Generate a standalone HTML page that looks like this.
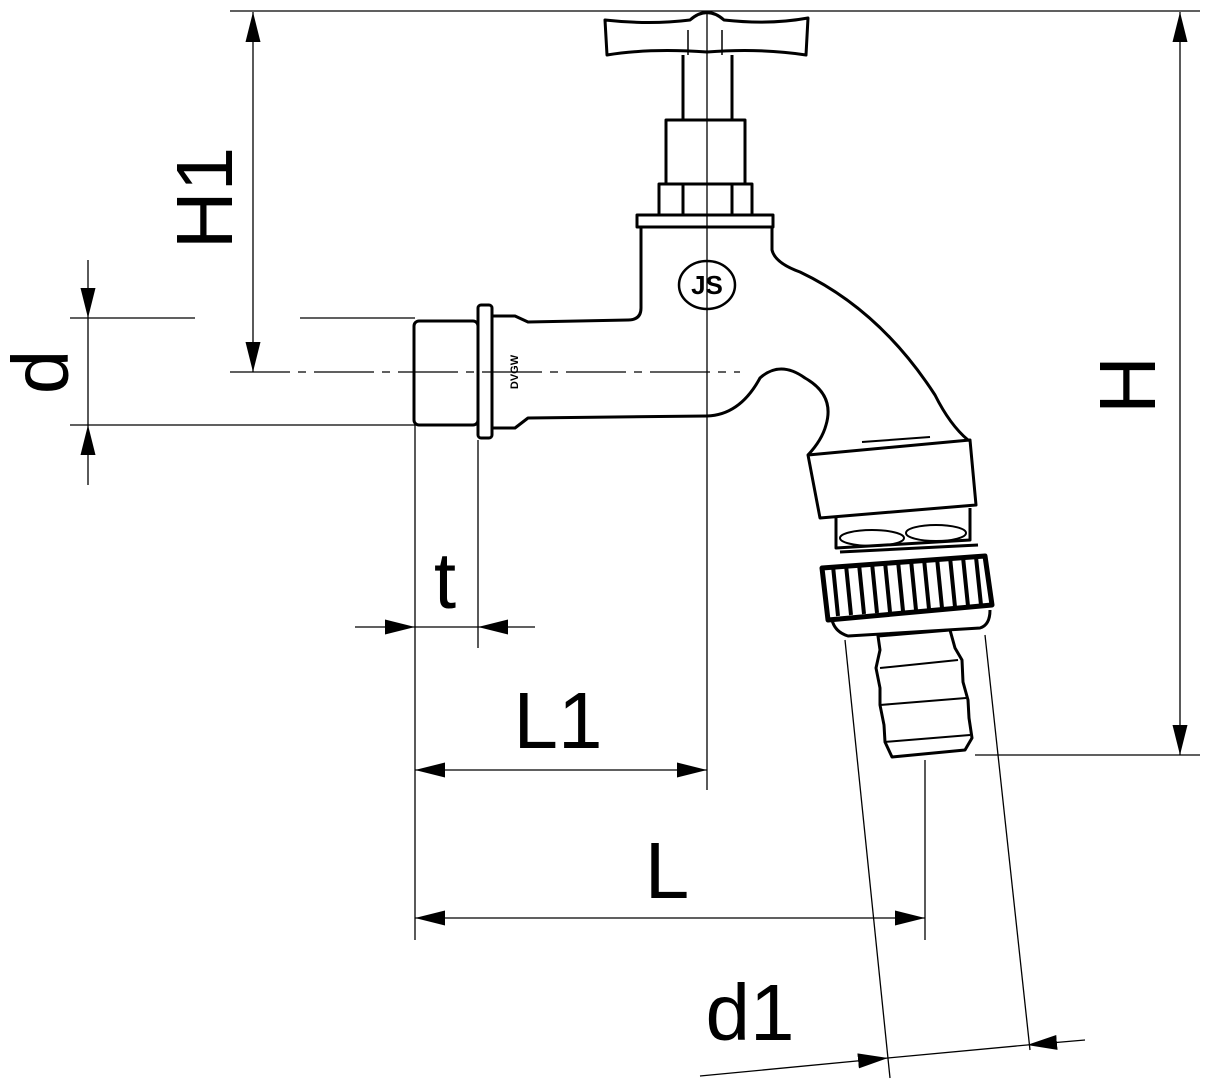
<!DOCTYPE html>
<html><head><meta charset="utf-8"><style>html,body{margin:0;padding:0;background:#fff}svg{display:block}</style></head>
<body>
<svg width="1205" height="1080" viewBox="0 0 1205 1080" xmlns="http://www.w3.org/2000/svg" font-family="Liberation Sans, sans-serif">
<defs>
<marker id="a" viewBox="0 0 10 10" refX="10" refY="5" markerWidth="30" markerHeight="30" markerUnits="userSpaceOnUse" orient="auto-start-reverse"><path d="M0,2.5 L10,5 L0,7.5 Z" fill="#000"/></marker>
</defs>
<g stroke="#000" stroke-width="1.3" fill="none">
<line x1="230" y1="11" x2="1200" y2="11"/>
<line x1="975" y1="755" x2="1200" y2="755"/>
<line x1="230" y1="372" x2="740" y2="372" stroke-dasharray="60,8,8,8"/>
<line x1="707" y1="12" x2="707" y2="790"/>
<line x1="70" y1="318" x2="195" y2="318"/>
<line x1="300" y1="318" x2="415" y2="318"/>
<line x1="70" y1="425" x2="415" y2="425"/>
<line x1="415" y1="425" x2="415" y2="940"/>
<line x1="478" y1="440" x2="478" y2="648"/>
<line x1="925" y1="760" x2="925" y2="940"/>
<line x1="845" y1="640" x2="890" y2="1078"/>
<line x1="985" y1="635" x2="1030" y2="1050"/>
<line x1="253" y1="12" x2="253" y2="372" marker-start="url(#a)" marker-end="url(#a)"/>
<line x1="1180" y1="12" x2="1180" y2="755" marker-start="url(#a)" marker-end="url(#a)"/>
<line x1="88" y1="260" x2="88" y2="318" marker-end="url(#a)"/>
<line x1="88" y1="318" x2="88" y2="425"/>
<line x1="88" y1="485" x2="88" y2="425" marker-end="url(#a)"/>
<line x1="355" y1="627" x2="415" y2="627" marker-end="url(#a)"/>
<line x1="415" y1="627" x2="478" y2="627"/>
<line x1="535" y1="627" x2="478" y2="627" marker-end="url(#a)"/>
<line x1="415" y1="770" x2="707" y2="770" marker-start="url(#a)" marker-end="url(#a)"/>
<line x1="415" y1="918" x2="925" y2="918" marker-start="url(#a)" marker-end="url(#a)"/>
<line x1="700" y1="1076" x2="888" y2="1058" marker-end="url(#a)"/>
<line x1="888" y1="1058" x2="1027" y2="1045"/>
<line x1="1085" y1="1040" x2="1027" y2="1045" marker-end="url(#a)"/>
</g>
<g stroke="#000" stroke-width="3" fill="none" stroke-linejoin="round">
<path d="M605,20 Q650,25 690,20 Q707,5 724,20 Q770,25 808,18 L806,55 Q760,48 707,52 Q650,48 607,55 Z"/>
<line x1="683" y1="55" x2="683" y2="120"/><line x1="732" y1="55" x2="732" y2="120"/>
<line x1="688" y1="30" x2="688" y2="55" stroke-width="1.5"/><line x1="722" y1="30" x2="722" y2="55" stroke-width="1.5"/>
<rect x="666" y="120" width="79" height="64"/>
<rect x="659" y="184" width="93" height="31"/>
<line x1="683" y1="184" x2="683" y2="215"/><line x1="732" y1="184" x2="732" y2="215"/>
<rect x="637" y="215" width="136" height="12"/>
<path d="M641,227 L641,308 Q641,320 628,320 L528,322 L515,316 L492,316"/>
<path d="M492,428 L515,428 L528,418 L707,416 Q740,415 760,378 Q780,360 805,378 Q835,395 826,425 Q822,440 808,455"/>
<path d="M772,227 L772,250 Q775,263 800,272 Q880,310 935,395 Q950,425 968,440"/>
<path d="M808,455 L970,440 L976,505 L820,518 Z"/>
<line x1="862" y1="442" x2="930" y2="437" stroke-width="2"/>
<path d="M836,518 L836,548 L970,540 L970,508"/>
<ellipse cx="872" cy="538" rx="32" ry="8" stroke-width="2"/>
<ellipse cx="936" cy="533" rx="30" ry="8" stroke-width="2"/>
<path d="M840,552 L978,545"/>
<path d="M822,568 L985,556 L992,605 L828,620 Z" fill="#fff" stroke-width="5"/>
<path d="M832,620 Q835,632 848,636 L980,628 Q990,625 990,610"/>
<path d="M878,636 L950,630 L955,648 L962,660 L963,682 L968,700 L969,718 L972,738 L965,750 L892,757 L885,742 L884,725 L880,705 L880,688 L876,668 L880,650 Z"/>
<line x1="880" y1="668" x2="958" y2="660" stroke-width="2"/>
<line x1="880" y1="705" x2="966" y2="698" stroke-width="2"/>
<line x1="884" y1="742" x2="970" y2="735" stroke-width="2"/>
<rect x="414" y="321" width="64" height="104" rx="5"/>
<rect x="478" y="305" width="14" height="133" rx="3"/>
<ellipse cx="707" cy="285" rx="28" ry="24" stroke-width="2.5"/>
</g>
<g stroke="#000" stroke-width="4">
<line x1="833" y1="566" x2="838" y2="616"/><line x1="846" y1="565" x2="851" y2="615"/><line x1="859" y1="564" x2="864" y2="614"/><line x1="872" y1="563" x2="877" y2="613"/><line x1="885" y1="562" x2="890" y2="612"/><line x1="898" y1="561" x2="903" y2="611"/><line x1="911" y1="560" x2="916" y2="610"/><line x1="924" y1="559" x2="929" y2="609"/><line x1="937" y1="558" x2="942" y2="608"/><line x1="950" y1="557" x2="955" y2="607"/><line x1="963" y1="557" x2="968" y2="606"/><line x1="976" y1="557" x2="981" y2="605"/>
</g>
<text x="707" y="294" font-size="26" font-weight="bold" text-anchor="middle">JS</text>
<text transform="translate(518,372) rotate(-90)" font-size="11" font-weight="bold" text-anchor="middle">DVGW</text>
<g font-size="80" fill="#000">
<text transform="translate(232,198) rotate(-90)" text-anchor="middle">H1</text>
<text transform="translate(1155,385) rotate(-90)" text-anchor="middle">H</text>
<text transform="translate(68,372) rotate(-90)" text-anchor="middle">d</text>
<text x="445" y="608" text-anchor="middle">t</text>
<text x="558" y="748" text-anchor="middle">L1</text>
<text x="667" y="898" text-anchor="middle">L</text>
<text x="750" y="1040" text-anchor="middle">d1</text>
</g>
</svg>
</body></html>
